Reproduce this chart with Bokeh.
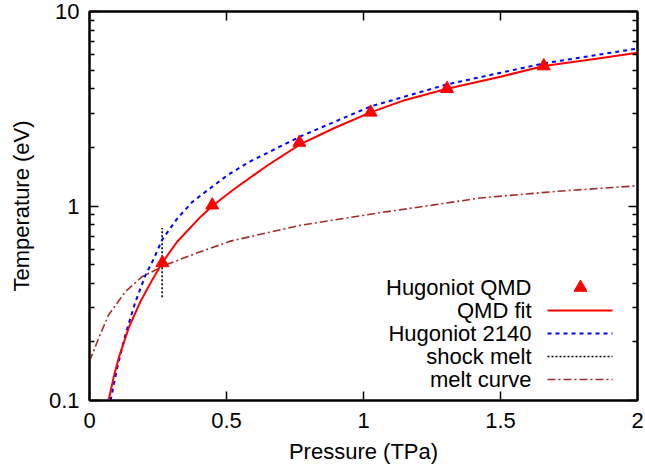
from bokeh.plotting import figure
from bokeh.models import (Range1d, FixedTicker, LinearAxis, LogAxis,
                          CustomJSTickFormatter, Label)
from bokeh.embed import file_html
from bokeh.resources import INLINE

# ---------------- data ----------------
qmd_P = [0.266, 0.448, 0.766, 1.026, 1.305, 1.658]
qmd_T = [0.51, 1.01, 2.12, 3.03, 4.01, 5.24]

fit_P = [0.070, 0.09, 0.107, 0.143, 0.186, 0.229, 0.268, 0.32, 0.405,
         0.448, 0.527, 0.648, 0.77, 0.90, 1.026, 1.15, 1.305, 1.50,
         1.658, 1.85, 2.0]
fit_T = [0.101, 0.135, 0.166, 0.236, 0.323, 0.417, 0.517, 0.655, 0.879,
         1.0, 1.22, 1.61, 2.08, 2.54, 3.03, 3.50, 4.01, 4.62,
         5.24, 5.71, 6.13]

h2140_P = [0.077, 0.101, 0.131, 0.168, 0.204, 0.235, 0.265, 0.32, 0.375,
           0.429, 0.502, 0.581, 0.77, 1.026, 1.305, 1.658, 2.0]
h2140_T = [0.1, 0.147, 0.218, 0.323, 0.44, 0.537, 0.67, 0.861, 1.048,
           1.2, 1.435, 1.68, 2.28, 3.25, 4.22, 5.41, 6.45]

shock_P = [0.265, 0.265]
shock_T = [0.34, 0.77]

melt_P = [0.0, 0.034, 0.070, 0.131, 0.192, 0.277, 0.387, 0.515, 0.661,
          0.77, 0.92, 1.062, 1.25, 1.427, 1.707, 2.0]
melt_T = [0.159, 0.21, 0.276, 0.363, 0.433, 0.497, 0.570, 0.66, 0.735,
          0.796, 0.86, 0.924, 1.01, 1.10, 1.19, 1.27]

x_ticks = [0, 0.5, 1, 1.5, 2]
y_ticks = [0.1, 1, 10]
y_minor = [0.2, 0.3, 0.4, 0.5, 0.6, 0.7, 0.8, 0.9,
           2, 3, 4, 5, 6, 7, 8, 9]

legend_labels = ["Hugoniot QMD", "QMD fit", "Hugoniot 2140",
                 "shock melt", "melt curve"]

# ---------------- styling ----------------
FONT = "Liberation Sans"
FS = "22px"
RED = "#ff0000"
BLUE = "#0000ff"
BROWN = "#a52a2a"

p = figure(width=645, height=474,
           x_range=Range1d(0, 2), y_range=Range1d(0.1, 10),
           y_axis_type="log", output_backend="svg", toolbar_location=None,
           min_border_left=89, min_border_right=8, min_border_top=11,
           min_border_bottom=74)
p.grid.visible = False
p.outline_line_color = "black"
p.outline_line_width = 2
p.background_fill_color = "white"
p.border_fill_color = "white"

fmt = CustomJSTickFormatter(code="return String(tick)")
blank = CustomJSTickFormatter(code="return ''")


def style_axis(ax, show_labels=True):
    ax.axis_line_color = "black"
    ax.axis_line_width = 2
    ax.major_tick_line_color = "black"
    ax.major_tick_line_width = 1.5
    ax.minor_tick_line_color = "black"
    ax.minor_tick_line_width = 1.5
    ax.major_tick_in = 9
    ax.major_tick_out = 0
    ax.minor_tick_in = 5
    ax.minor_tick_out = 0
    if show_labels:
        ax.formatter = fmt
        ax.major_label_text_font = FONT
        ax.major_label_text_font_size = FS
        ax.major_label_text_color = "black"
        ax.axis_label_text_font = FONT
        ax.axis_label_text_font_size = FS
        ax.axis_label_text_font_style = "normal"
        ax.axis_label_text_color = "black"
    else:
        ax.formatter = blank
        ax.major_label_standoff = 0


xt = FixedTicker(ticks=x_ticks)
yt = FixedTicker(ticks=y_ticks, minor_ticks=y_minor)

xa = p.xaxis[0]
xa.ticker = xt
style_axis(xa)
xa.axis_label = "Pressure (TPa)"
xa.major_label_standoff = 12
xa.axis_label_standoff = 8

ya = p.yaxis[0]
ya.ticker = yt
style_axis(ya)
ya.axis_label = "Temperature (eV)"
ya.major_label_standoff = 10
ya.axis_label_standoff = 12

top = LinearAxis(ticker=FixedTicker(ticks=x_ticks))
style_axis(top, False)
p.add_layout(top, "above")
right = LogAxis(ticker=FixedTicker(ticks=y_ticks, minor_ticks=y_minor))
style_axis(right, False)
p.add_layout(right, "right")

# ---------------- data marks ----------------
p.line(melt_P, melt_T, line_color=BROWN, line_width=1.6, line_dash="8 3 2 3")
p.line(shock_P, shock_T, line_color="black", line_width=1.6, line_dash="2 2")
p.line(h2140_P, h2140_T, line_color=BLUE, line_width=2, line_dash="4 4")
p.line(fit_P, fit_T, line_color=RED, line_width=2)
p.scatter(qmd_P, qmd_T, marker="triangle", size=13, fill_color=RED,
          line_color=RED)

# ---------------- legend (manual, gnuplot-style) ----------------
FL, FR, FT, FB = 89, 637, 11, 400  # frame in page pixels


def dx(px):
    return (px - FL) / (FR - FL) * 2.0


def dy(py):
    return 10 ** (1 - (py - FT) / (FB - FT) * 2.0)


rows = [287, 310, 333, 356, 379]
text_right = 531
s0, s1 = 547, 612
for lab, r in zip(legend_labels, rows):
    p.add_layout(Label(x=dx(text_right), y=dy(r), text=lab,
                       text_align="right", text_baseline="middle",
                       text_font=FONT, text_font_size=FS,
                       text_color="black"))

p.scatter([dx(580)], [dy(rows[0])], marker="triangle", size=13,
          fill_color=RED, line_color=RED)
p.line([dx(s0), dx(s1)], [dy(rows[1])] * 2, line_color=RED, line_width=2)
p.line([dx(s0), dx(s1)], [dy(rows[2])] * 2, line_color=BLUE, line_width=2,
       line_dash="4 4")
p.line([dx(s0), dx(s1)], [dy(rows[3])] * 2, line_color="black",
       line_width=1.6, line_dash="2 2")
p.line([dx(s0), dx(s1)], [dy(rows[4])] * 2, line_color=BROWN,
       line_width=1.6, line_dash="8 3 2 3")

open("out.html", "w").write(file_html(p, INLINE))
